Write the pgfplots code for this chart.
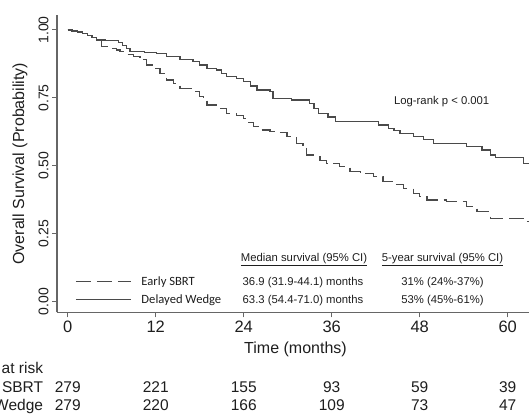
\documentclass[border=0pt]{standalone}
\usepackage{pgfplots}
\pgfplotsset{compat=1.18}
\usepackage{fontspec}
\setmainfont{Liberation Sans}
\newfontfamily\carlito{Carlito}
\definecolor{curve}{HTML}{4A4A4A}
\definecolor{axisgray}{HTML}{666666}
\definecolor{txt}{HTML}{1E1E1E}
\newcommand\fs[1]{\fontsize{#1}{#1}\selectfont}
\newcommand\PX[2]{({(#1-57)*1pt},{(312.3-#2)*1pt})}
\begin{document}
\begin{tikzpicture}
\useasboundingbox (-57pt,-100.7pt) rectangle (472pt,312.3pt);
\clip (-57pt,-100.7pt) rectangle (472pt,312.3pt);
\begin{axis}[
  anchor=south west, at={(0pt,0pt)},
  scale only axis, width=472pt, height=297.3pt,
  xmin=-1.46, xmax=62.9, ymin=-0.039, ymax=1.055,
  axis x line*=bottom, axis y line*=left,
  axis line style={axisgray, line width=1.1pt},
  tick align=outside, major tick length=5pt,
  tick style={axisgray, line width=1pt},
  xtick={0,12,24,36,48,60}, xticklabels={0,12,24,36,48,60},
  ytick={0,0.25,0.5,0.75,1}, yticklabels={0.00,0.25,0.50,0.75,1.00},
  xticklabel style={font=\fs{16.5}, text=txt},
  yticklabel style={font=\fs{14}, text=txt, rotate=90, anchor=south},
  xlabel={Time (months)}, ylabel={Overall Survival (Probability)},
  label style={font=\fs{16}, text=txt},
  xlabel style={at={(axis description cs:0.5053,0)}, anchor=center, yshift=-36.7pt},
  ylabel style={at={(axis description cs:-0.0784,0.5)}, anchor=center},
  legend style={draw=none, fill=none, at={(axis cs:1.0,0.041)}, anchor=west,
    inner sep=0pt, font=\carlito\fs{12.6}, text=txt, row sep=4pt,
    /tikz/every odd column/.append style={column sep=8pt}},
  legend cell align=left,
  legend image code/.code={\draw[#1] (0pt,0pt) -- (55pt,0pt);},
]
\addplot[const plot, curve, line width=1.25pt, dash pattern=on 15pt off 6pt] table {
0 1.000
0.6 0.996
1.3 0.992
2.0 0.986
2.7 0.980
3.3 0.973
3.95 0.963
4.63 0.939
5.7 0.932
6.68 0.926
7.13 0.920
8.0 0.911
8.95 0.902
9.86 0.890
10.77 0.871
11.68 0.859
12.6 0.840
13.5 0.816
14.4 0.804
15.3 0.785
17.1 0.773
18.0 0.754
18.5 0.740
19.0 0.724
20.3 0.711
21.7 0.693
23.0 0.684
24.0 0.675
24.6 0.660
25.3 0.644
26.2 0.632
27.6 0.626
28.5 0.622
29.9 0.607
31.2 0.583
32.1 0.570
32.6 0.540
33.5 0.534
34.4 0.520
35.3 0.509
37.1 0.497
38.5 0.478
39.9 0.473
41.7 0.460
43.0 0.442
44.4 0.430
45.8 0.417
47.1 0.399
48.0 0.387
49.0 0.374
51.7 0.368
54.4 0.350
55.8 0.331
57.6 0.307
62.6 0.294
62.9 0.294
};
\addlegendentry{Early SBRT}
\addplot[const plot, curve, line width=1.25pt] table {
0 1.000
0.6 0.996
1.3 0.992
2.0 0.986
2.7 0.980
3.3 0.973
3.95 0.963
5.2 0.960
6.9 0.953
7.5 0.943
8.0 0.933
8.5 0.920
10.5 0.917
12.1 0.914
13.5 0.902
15.3 0.892
17.1 0.883
18.0 0.871
19.0 0.859
20.3 0.853
21.0 0.840
21.7 0.828
23.0 0.820
24.0 0.810
24.9 0.794
25.8 0.779
27.6 0.773
28.0 0.749
30.5 0.742
33.0 0.730
33.6 0.712
34.2 0.693
35.5 0.680
36.5 0.663
42.4 0.650
43.7 0.638
44.5 0.629
45.3 0.620
47.1 0.607
48.5 0.597
49.9 0.583
54.4 0.570
56.5 0.558
57.6 0.540
58.3 0.531
62.1 0.509
62.9 0.509
};
\addlegendentry{Delayed Wedge}
\end{axis}
\begin{scope}[every node/.style={font=\fs{11.3}, text=txt, inner sep=0pt, anchor=base}]
\node at \PX{441.7}{104} {Log-rank p < 0.001};
\node at \PX{304}{261} {\underline{Median survival (95\% CI)}};
\node at \PX{442.5}{261} {\underline{5-year survival (95\% CI)}};
\node at \PX{303}{285.7} {36.9 (31.9-44.1) months};
\node at \PX{303}{303.3} {63.3 (54.4-71.0) months};
\node at \PX{442.5}{285.7} {31\% (24\%-37\%)};
\node at \PX{442.5}{303.3} {53\% (45\%-61\%)};
\end{scope}
\begin{scope}[every node/.style={font=\fs{15.5}, text=txt, inner sep=0pt}]
\node[anchor=base east] at \PX{43.3}{373.3} {Number at risk};
\node[anchor=base east] at \PX{43.3}{392.3} {Early SBRT};
\node[anchor=base east] at \PX{43.3}{410.5} {Delayed Wedge};
\node[anchor=base] at \PX{67.7}{392.3} {279};
\node[anchor=base] at \PX{155.7}{392.3} {221};
\node[anchor=base] at \PX{243.7}{392.3} {155};
\node[anchor=base] at \PX{331.7}{392.3} {93};
\node[anchor=base] at \PX{419.7}{392.3} {59};
\node[anchor=base] at \PX{507.7}{392.3} {39};
\node[anchor=base] at \PX{67.7}{410.5} {279};
\node[anchor=base] at \PX{155.7}{410.5} {220};
\node[anchor=base] at \PX{243.7}{410.5} {166};
\node[anchor=base] at \PX{331.7}{410.5} {109};
\node[anchor=base] at \PX{419.7}{410.5} {73};
\node[anchor=base] at \PX{507.7}{410.5} {47};
\end{scope}
\end{tikzpicture}
\end{document}
